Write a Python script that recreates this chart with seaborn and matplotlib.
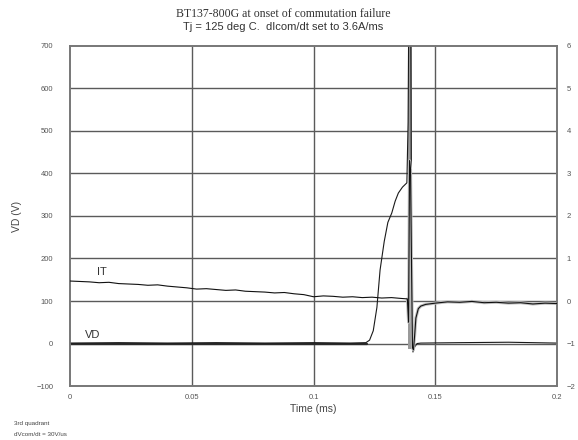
import numpy as np
import pandas as pd
import matplotlib
matplotlib.use("Agg")
import matplotlib.pyplot as plt
import seaborn as sns

# Time axis (ms) and traces read from the scope capture
time_vd = [0.000, 0.020, 0.040, 0.060, 0.080, 0.100, 0.115, 0.1215, 0.1230,
           0.1245, 0.1260, 0.1273, 0.1290, 0.1305, 0.1321, 0.1335, 0.1348,
           0.1365, 0.1383, 0.1388, 0.1392, 0.1398, 0.1403, 0.1408, 0.1415,
           0.1425, 0.1440, 0.160, 0.180, 0.200]
vd_volts = [1, 2, 1, 2, 1, 2, 1, 2, 8,
            30, 85, 173, 240, 285, 307, 335, 354,
            368, 378, 520, 900, 900, 120, -20, -8,
            0, 1, 2, 3, 1]

time_it = [0.000, 0.004, 0.008, 0.012, 0.016, 0.020, 0.024, 0.028, 0.032,
           0.036, 0.040, 0.044, 0.048, 0.052, 0.056, 0.060, 0.064, 0.068,
           0.072, 0.076, 0.080, 0.084, 0.088, 0.092, 0.096, 0.100, 0.104,
           0.108, 0.112, 0.116, 0.120, 0.124, 0.128, 0.132, 0.136, 0.1385,
           0.1390, 0.1394, 0.1398, 0.1402, 0.1406, 0.1410, 0.1415, 0.1420,
           0.1430, 0.1440, 0.1460, 0.1500, 0.1550, 0.1600, 0.1650, 0.1700,
           0.1750, 0.1800, 0.1850, 0.1900, 0.1950, 0.2000]
it_amps = [0.47, 0.46, 0.45, 0.43, 0.44, 0.41, 0.40, 0.39, 0.37,
           0.38, 0.35, 0.33, 0.31, 0.28, 0.29, 0.27, 0.25, 0.26,
           0.23, 0.22, 0.21, 0.19, 0.20, 0.17, 0.15, 0.10, 0.12,
           0.11, 0.09, 0.10, 0.08, 0.09, 0.07, 0.08, 0.06, 0.05,
           -0.50, 3.30, 3.10, 0.90, -1.10, -1.15, -0.80, -0.40,
           -0.18, -0.12, -0.08, -0.05, -0.02, -0.03, -0.01, -0.04,
           -0.03, -0.05, -0.04, -0.07, -0.05, -0.06]

vd_ticks = [-100, 0, 100, 200, 300, 400, 500, 600, 700]
it_ticks = [-2, -1, 0, 1, 2, 3, 4, 5, 6]
time_ticks = [0, 0.05, 0.1, 0.15, 0.2]
time_labels = ["0", "0.05", "0.1", "0.15", "0.2"]

sns.set_style("white")
plt.rcParams["font.family"] = ["Liberation Sans", "DejaVu Sans"]

vd_df = pd.DataFrame({"t": time_vd, "v": vd_volts})
it_df = pd.DataFrame({"t": time_it, "i": it_amps})
it_after = it_df[it_df["t"] >= 0.1385]

fig = plt.figure(figsize=(5.78, 4.40), dpi=100)
ax = fig.add_axes([0.121, 0.1227, 0.843, 0.7728])
ax2 = ax.twinx()

grid_c = "#5a5a5a"
for x in time_ticks[1:-1]:
    ax.axvline(x, color=grid_c, lw=1.0, zorder=0)
for y in vd_ticks[1:-1]:
    ax.axhline(y, color=grid_c, lw=1.0, zorder=0)

# grey sample band on the spike and the recovering current
ax.axvspan(0.1388, 0.1405, ymin=0.11, ymax=1.0, color="#9a9a9a", lw=0, zorder=1)
sns.lineplot(data=it_after, x="t", y="i", ax=ax2, color="#c0c0c0", lw=2.2,
             estimator=None, sort=False, zorder=2)

sns.lineplot(data=vd_df, x="t", y="v", ax=ax, color="#1a1a1a", lw=0.8,
             estimator=None, sort=False, zorder=3)
ax.axhline(0, xmin=0, xmax=0.61, color="#2a2a2a", lw=1.6, zorder=2)
sns.lineplot(data=it_df, x="t", y="i", ax=ax2, color="#111111", lw=0.8,
             estimator=None, sort=False, zorder=3)

ax.set_xlim(0, 0.2)
ax.set_ylim(-100, 700)
ax2.set_ylim(-2, 6)
ax.set_xticks(time_ticks)
ax.set_xticklabels(time_labels)
ax.set_yticks(vd_ticks)
ax2.set_yticks(it_ticks)

ax.tick_params(axis="y", length=0, labelsize=5.5, colors="#555555", pad=12)
ax.tick_params(axis="x", length=0, labelsize=5.5, colors="#555555", pad=6)
ax2.tick_params(length=0, labelsize=5.5, colors="#555555", pad=7)
for a in (ax, ax2):
    for s in a.spines.values():
        s.set_color("#777777")
        s.set_linewidth(1.2)

ax.set_xlabel("Time (ms)", fontsize=7.5, color="#444444", labelpad=2)
ax.set_ylabel("VD (V)", fontsize=7.5, color="#444444", labelpad=10)
ax2.set_ylabel("")

ax.text(0.011, 162, "IT", fontsize=8, color="#333333")
ax.text(0.006, 12, "VD", fontsize=8, color="#333333")

fig.text(0.49, 0.962, "BT137-800G at onset of commutation failure",
         ha="center", fontsize=8.5, color="#333333", family=["Liberation Serif", "DejaVu Serif"])
fig.text(0.49, 0.932, "Tj = 125 deg C.  dIcom/dt set to 3.6A/ms",
         ha="center", fontsize=8, color="#333333")

fig.text(0.025, 0.033, "3rd quadrant", fontsize=4.5, color="#444444")
fig.text(0.025, 0.008, "dVcom/dt = 30V/us", fontsize=4.5, color="#444444")

fig.savefig("out.png", dpi=100, facecolor="white")
